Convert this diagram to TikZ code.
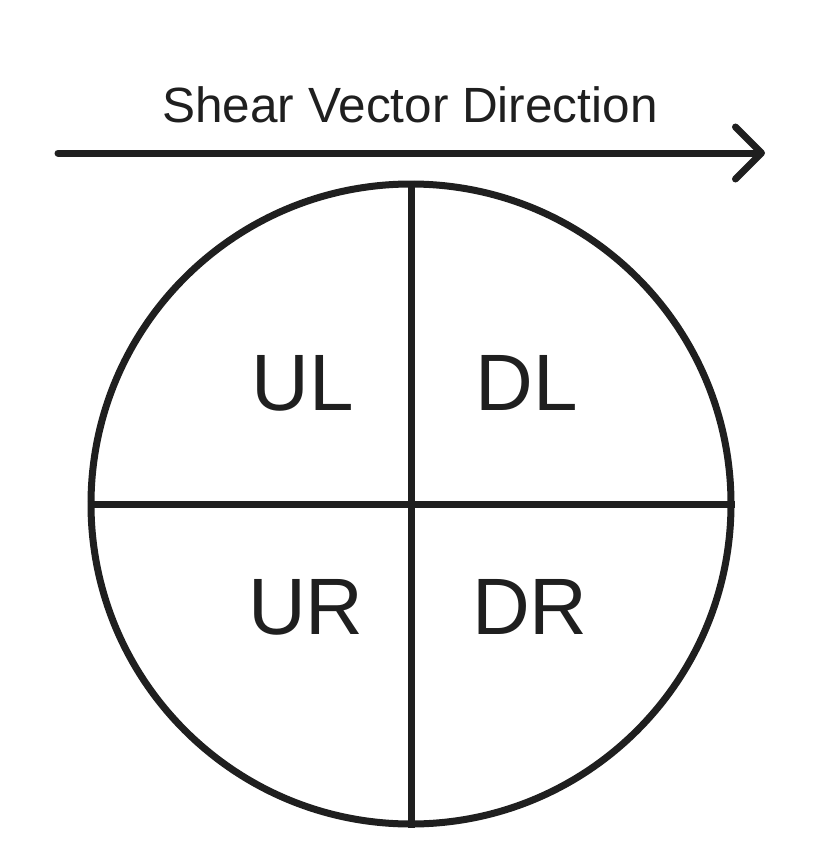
\documentclass[tikz,border=0pt]{standalone}
\usepackage{fontspec}
\setmainfont{Liberation Sans}
\usetikzlibrary{arrows.meta}
\definecolor{inkgray}{HTML}{1F1F1F}
\begin{document}
\begin{tikzpicture}
[x=1pt, y=-1pt,
  discdecorate/.style={shape=circle,inner sep=0pt,minimum size=640pt,draw=inkgray,line width=7pt},%
  linedecorate/.style={-,draw=inkgray,line width=7pt},%
  arrowdecorate/.style={-{Straight Barb[length=26pt,width=52pt,line cap=round,line join=round]},draw=inkgray,line width=7pt,line cap=round},%
  labeldecorate/.style={inner sep=0pt,anchor=base,text=inkgray,font=\fontsize{80}{96}\selectfont}]
\useasboundingbox (0,0) rectangle (835,864);
%% the disc and its quarters
\node (disc) at (411,504) [discdecorate] {};
\path
\foreach \startnode/\endnode in {disc.north/disc.south, disc.west/disc.east} {
  (\startnode) edge[linedecorate] (\endnode)
};
%% quarter labels
\foreach \nodename/\x/\y in {UL/303/410, DL/527/410, UR/306/634, DR/530/634}
{
  \node (\nodename) at (\x,\y) [labeldecorate] {\nodename};
}
%% shear vector
\coordinate (tail) at (58,153);
\coordinate (head) at (765,153);
\draw [arrowdecorate] (tail) -- (head);
\node (title) at (410,122) [labeldecorate,font=\fontsize{49.5}{59}\selectfont] {Shear Vector Direction};
\end{tikzpicture}
\end{document}
